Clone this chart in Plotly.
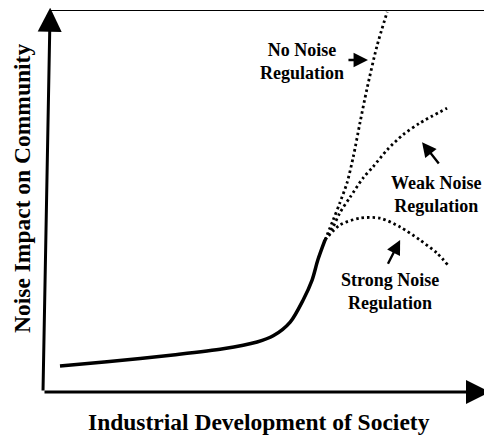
import plotly.graph_objects as go

# Data (arbitrary 0-100 units)
dev_base = [3.8, 14.3, 29.1, 40.3, 47.9, 51.5, 55.3, 58.2, 60.2, 61.5, 63.1]
impact_base = [6.8, 7.9, 9.7, 11.3, 13.1, 14.7, 18.3, 24.1, 29.3, 34.6, 39.8]

dev_none = [63.1, 64.9, 66.4, 68.0, 69.4, 70.9, 72.5, 74.7, 77.0]
impact_none = [39.8, 45.0, 49.5, 54.7, 61.5, 70.4, 79.5, 90.5, 99.5]

dev_weak = [63.1, 64.9, 66.4, 68.7, 71.6, 73.8, 77.0, 80.5, 84.3, 90.4]
impact_weak = [39.8, 43.2, 46.9, 51.0, 56.0, 58.9, 63.4, 67.3, 70.4, 74.3]

dev_strong = [63.1, 66.4, 70.9, 75.4, 79.9, 84.3, 88.1, 90.6]
impact_strong = [39.8, 43.7, 45.5, 45.5, 43.2, 39.8, 36.4, 33.2]

labels = ["No Noise<br>Regulation", "Weak Noise<br>Regulation", "Strong Noise<br>Regulation"]
x_title = "Industrial Development of Society"
y_title = "Noise Impact on Community"

FONT = "Liberation Serif"

fig = go.Figure()
fig.add_trace(go.Scatter(x=dev_base, y=impact_base, mode="lines",
                         line=dict(color="black", width=3.5, shape="spline", smoothing=0.8),
                         hoverinfo="skip", showlegend=False))
for xs, ys in [(dev_none, impact_none), (dev_weak, impact_weak), (dev_strong, impact_strong)]:
    fig.add_trace(go.Scatter(x=xs, y=ys, mode="lines",
                             line=dict(color="black", width=2.8, dash="2.5px,3px",
                                       shape="spline", smoothing=0.8),
                             hoverinfo="skip", showlegend=False))

shapes = [
    dict(type="line", xref="x", yref="y", x0=1.5, y0=100, x1=100, y1=100,
         line=dict(color="black", width=2.2)),
    dict(type="line", xref="x", yref="y", x0=99.4, y0=0, x1=99.4, y1=100,
         line=dict(color="black", width=1.2)),
]

arrow_style = dict(xref="x", yref="y", axref="x", ayref="y", showarrow=True,
                   arrowcolor="black", text="")
annotations = [
    # axes arrows
    dict(x=100, y=0, ax=0, ay=0, arrowhead=2, arrowsize=1.6, arrowwidth=3, **arrow_style),
    dict(x=1.6, y=100.6, ax=0, ay=0, arrowhead=2, arrowsize=1.6, arrowwidth=3, **arrow_style),
    # label arrows
    dict(x=72.7, y=86.9, ax=68.0, ay=86.9, arrowhead=2, arrowsize=1.2, arrowwidth=2.4, **arrow_style),
    dict(x=84.8, y=65.4, ax=88.8, ay=59.4, arrowhead=2, arrowsize=1.2, arrowwidth=2.4, **arrow_style),
    dict(x=79.9, y=39.8, ax=77.0, ay=33.2, arrowhead=2, arrowsize=1.2, arrowwidth=2.4, **arrow_style),
    # labels
    dict(x=57.9, y=86.4, xref="x", yref="y", text="<b>" + labels[0] + "</b>", showarrow=False,
         font=dict(family=FONT, size=18, color="black"), align="center"),
    dict(x=88.1, y=51.6, xref="x", yref="y", text="<b>" + labels[1] + "</b>", showarrow=False,
         font=dict(family=FONT, size=18, color="black"), align="center"),
    dict(x=77.6, y=26.2, xref="x", yref="y", text="<b>" + labels[2] + "</b>", showarrow=False,
         font=dict(family=FONT, size=18, color="black"), align="center"),
    # axis titles
    dict(x=0.483, y=0, xref="paper", yref="paper", yshift=-30, xanchor="center", yanchor="middle",
         text="<b>" + x_title + "</b>", showarrow=False,
         font=dict(family=FONT, size=23.5, color="black")),
    dict(x=-0.047, y=0.534, xref="paper", yref="paper", xanchor="center", yanchor="middle",
         textangle=-90, text="<b>" + y_title + "</b>", showarrow=False,
         font=dict(family=FONT, size=23.5, color="black")),
]

# The page body adds an 8px offset, so the figure is 8px smaller and margins shifted.
fig.update_layout(
    width=484, height=427,
    margin=dict(l=35, r=2, t=2, b=43, autoexpand=False),
    paper_bgcolor="white", plot_bgcolor="white",
    shapes=shapes, annotations=annotations,
    xaxis=dict(range=[0, 100], showgrid=False, zeroline=False, showticklabels=False,
               ticks="", showline=False, fixedrange=True, automargin=False),
    yaxis=dict(range=[0, 100], showgrid=False, zeroline=False, showticklabels=False,
               ticks="", showline=False, fixedrange=True, automargin=False),
)

fig.write_html("out.html")
